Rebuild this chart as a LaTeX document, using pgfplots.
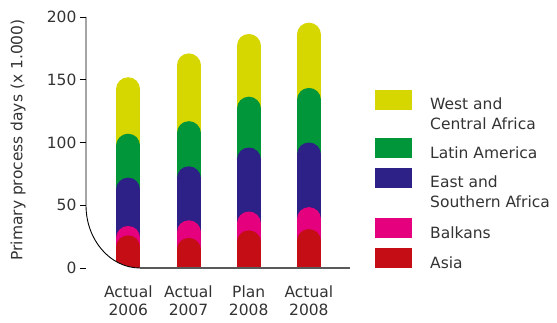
\documentclass[border=0pt]{standalone}
\usepackage{pgfplots}
\pgfplotsset{compat=1.18}
\usepackage{fontspec}
\setmainfont{DejaVu Sans}
\definecolor{cyel}{RGB}{214,214,0}
\definecolor{cgrn}{RGB}{0,150,57}
\definecolor{cblu}{RGB}{45,32,135}
\definecolor{cpnk}{RGB}{229,0,126}
\definecolor{cred}{RGB}{196,13,20}
\definecolor{ctxt}{RGB}{51,51,51}
\begin{document}
\begin{tikzpicture}[x=1pt,y=1pt,font=\fontsize{15.5}{18}\selectfont\color{ctxt}]
\path[use as bounding box] (0,0) rectangle (557,322);
\begin{axis}[
  at={(86pt,54pt)}, anchor=south west,
  scale only axis, width=264pt, height=251pt,
  xmin=-0.703, xmax=3.683, ymin=0, ymax=200,
  axis line style={draw=none},
  ytick={0,50,100,150,200}, ytick pos=left,
  xtick={0,1,2,3}, xtick pos=bottom,
  xticklabels={{Actual\\2006},{Actual\\2007},{Plan\\2008},{Actual\\2008}},
  xticklabel style={align=center, font=\fontsize{15.5}{18}\selectfont, text=ctxt, yshift=-8pt},
  yticklabel style={font=\fontsize{15.5}{18}\selectfont, text=ctxt},
  /pgf/number format/assume math mode=true,
  x tick style={draw=none},
  y tick style={draw=black, line width=0.8pt},
  tick align=outside, major tick length=6pt,
  every axis y label/.style={at={(axis description cs:-0.2576,0.51)}, rotate=90, anchor=center},
  ylabel={Primary process days (x 1.000)},
  ylabel style={font=\fontsize{15.5}{18}\selectfont, text=ctxt},
  clip=true,
]
\addplot[ycomb, draw=cyel, line width=24pt, line cap=round, yshift=-12pt, mark=none]
  coordinates {(0,152) (1,171) (2,186.5) (3,195.5)};
\addplot[ycomb, draw=cgrn, line width=24pt, line cap=round, yshift=-12pt, mark=none]
  coordinates {(0,107) (1,117) (2,136.5) (3,143.5)};
\addplot[ycomb, draw=cblu, line width=24pt, line cap=round, yshift=-12pt, mark=none]
  coordinates {(0,72) (1,81) (2,96) (3,100)};
\addplot[ycomb, draw=cpnk, line width=24pt, line cap=round, yshift=-12pt, mark=none]
  coordinates {(0,33.5) (1,38) (2,45) (3,48.5)};
\addplot[ycomb, draw=cred, line width=24pt, line cap=round, yshift=-12pt, mark=none]
  coordinates {(0,26) (1,24) (2,30) (3,31)};
\end{axis}
% axis decoration: curved corner
\fill[white] (86.5,52) -- (86.5,116.75) arc[start angle=180, end angle=270, x radius=53.5, y radius=62.75] -- (140,52) -- cycle;
\draw[black, line width=0.9pt] (86,305) -- (86,116.75) arc[start angle=180, end angle=270, x radius=54, y radius=62.75];
\draw[black!65, line width=1.2pt] (140,54) -- (350,54);
% legend
\fill[cyel] (375,212) rectangle (412,232);
\fill[cgrn] (375,164) rectangle (412,184);
\fill[cblu] (375,134) rectangle (412,154);
\fill[cpnk] (375,84) rectangle (412,104);
\fill[cred] (375,54) rectangle (412,74);
\node[anchor=base west, inner sep=0] at (430,212) {West and};
\node[anchor=base west, inner sep=0] at (430,193) {Central Africa};
\node[anchor=base west, inner sep=0] at (430,164) {Latin America};
\node[anchor=base west, inner sep=0] at (430,135) {East and};
\node[anchor=base west, inner sep=0] at (430,115) {Southern Africa};
\node[anchor=base west, inner sep=0] at (430,84) {Balkans};
\node[anchor=base west, inner sep=0] at (430,54) {Asia};
\end{tikzpicture}
\end{document}
